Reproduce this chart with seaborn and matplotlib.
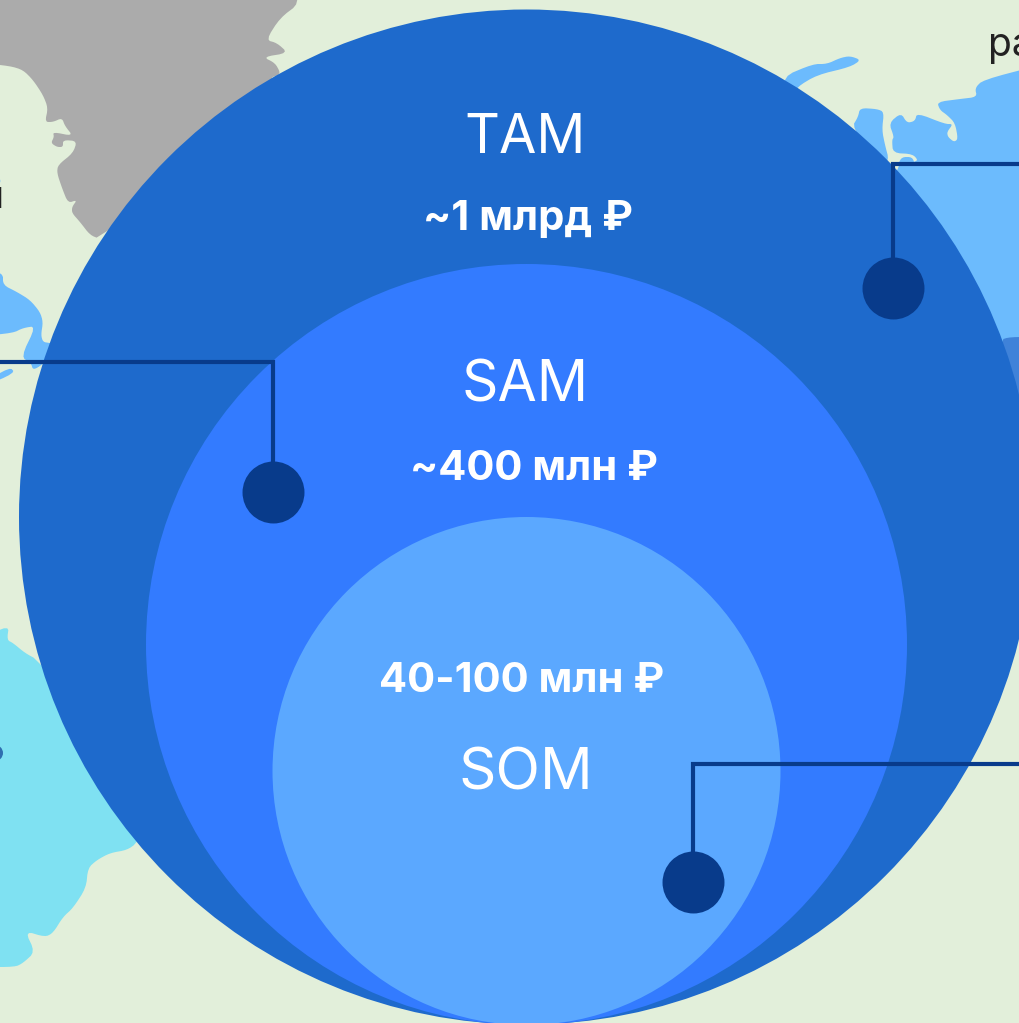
import matplotlib
matplotlib.use("Agg")
import matplotlib.pyplot as plt
from matplotlib.patches import Circle, Polygon
import numpy as np
import pandas as pd
import seaborn as sns

# Nested market circles: name, amount, centre and radius on the 1020x1023 canvas
market_names = ["TAM", "SAM", "SOM"]
market_amounts = ["~1 млрд ₽", "~400 млн ₽", "40-100 млн ₽"]
circle_x = [526.5, 526.5, 526.5]
circle_y = [517.0, 644.5, 771.0]
circle_r = [507.5, 380.5, 254.0]
circle_colors = ["#1E6ACC", "#337BFF", "#5BA8FF"]

# Callout pins and the elbows of their leader lines
pin_x = [893.5, 273.5, 693.0]
pin_y = [288.0, 492.0, 882.0]
elbow_y = [164.0, 361.5, 763.5]
leader_end_x = [1020.0, 0.0, 1020.0]

# Background regions, traced in canvas coordinates
gray_region = [(-20, 63), (10, 66), (23, 70), (33, 80), (43, 95), (48, 108), (45, 122), (53, 122),
               (62, 118), (65, 126), (73, 136), (53, 132), (54, 137), (51, 143), (57, 147), (63, 147),
               (63, 140), (77, 141), (73, 153), (58, 165), (57, 173), (62, 188), (68, 203), (77, 200),
               (72, 207), (72, 213), (80, 222), (90, 235), (100, 239), (280, 90), (270, 78), (278, 75),
               (280, 72), (275, 63), (263, 57), (288, 53), (277, 43), (266, 40), (280, 18), (300, 3),
               (290, -20), (-20, -20)]
blue_west = [(-20, 267), (3, 273), (3, 285), (17, 292), (30, 300), (40, 312), (43, 322), (41, 335),
             (43, 342), (50, 343), (60, 345), (42, 365), (33, 370), (31, 363), (21, 357), (36, 326),
             (23, 328), (13, 333), (-20, 336)]
blue_west_islet = [(-20, 385), (10, 367), (15, 373), (-20, 388)]
blue_west_tip = [(-20, 172), (6, 181), (-20, 190)]
blue_north_strip = [(782, 77), (813, 64), (827, 64), (840, 58), (850, 56), (861, 60), (850, 67),
                    (817, 75), (797, 87), (790, 100)]
blue_north_left = [(852, 127), (858, 117), (860, 108), (877, 109), (884, 112), (882, 130), (885, 145),
                   (889, 160), (880, 170)]
blue_north_main = [(919, 162), (913, 154), (893, 153), (892, 140), (894, 137), (889, 123), (901, 113),
                   (907, 123), (915, 121), (917, 113), (945, 124), (953, 124), (947, 132), (948, 137),
                   (954, 142), (958, 139), (955, 123), (947, 115), (940, 110), (937, 102), (960, 99),
                   (977, 97), (975, 88), (983, 80), (1040, 65), (1040, 400), (895, 400), (890, 164)]
blue_north_islet = [(898, 164), (902, 157), (912, 157), (915, 164)]
blue_east_patch = [(1000, 340), (1010, 337), (1040, 337), (1040, 420), (1000, 420)]
teal_region = [(-20, 640), (9, 625), (7, 640), (13, 643), (25, 653), (38, 660), (160, 800), (137, 843),
               (127, 850), (110, 853), (97, 860), (88, 868), (86, 888), (73, 908), (63, 917), (53, 933),
               (45, 937), (25, 931), (35, 952), (23, 963), (15, 967), (-20, 967)]
map_regions = [
    (gray_region, "#ABABAB"),
    (blue_west, "#6CBBFD"),
    (blue_west_islet, "#6CBBFD"),
    (blue_west_tip, "#6CBBFD"),
    (blue_north_strip, "#6CBBFD"),
    (blue_north_left, "#6CBBFD"),
    (blue_north_main, "#6CBBFD"),
    (blue_north_islet, "#6CBBFD"),
    (blue_east_patch, "#3F82D9"),
    (teal_region, "#7FE1F2"),
]

LAND = "#E2EFDA"
PIN = "#083B8B"
FONT = ["Inter", "DejaVu Sans"]


def soften(points, cut=0.22, passes=2):
    """Round the corners of a closed outline so coastlines read as curves."""
    pts = np.asarray(points, dtype=float)
    for _ in range(passes):
        nxt = np.roll(pts, -1, axis=0)
        a = pts * (1 - cut) + nxt * cut
        b = pts * cut + nxt * (1 - cut)
        pts = np.column_stack([a, b]).reshape(-1, 2)
    return pts


sns.set_theme(style="white")
plt.rcParams["font.family"] = FONT

fig = plt.figure(figsize=(10.2, 10.23), dpi=100, facecolor=LAND)
ax = fig.add_axes([0, 0, 1, 1])
ax.set_facecolor(LAND)

for points, color in map_regions:
    ax.add_patch(Polygon(soften(points), closed=True, facecolor=color, edgecolor="none", zorder=1))

# Map labels cut off by the canvas edge, and a faded pin on the teal region
ax.text(988.5, 55.5, "ра", fontsize=28, color="#222222", ha="left", va="baseline", zorder=2)
ax.text(3, 207.5, "н", fontsize=27, color="#222222", ha="right", va="baseline", zorder=2)
ax.add_patch(Circle((-5, 753), 8, facecolor="#2F6FB0", edgecolor="none", zorder=2))

for x, y, r, color in zip(circle_x, circle_y, circle_r, circle_colors):
    ax.add_patch(Circle((x, y), r, facecolor=color, edgecolor="none", zorder=3))

for px, py, ey, ex in zip(pin_x, pin_y, elbow_y, leader_end_x):
    ax.plot([ex, px, px], [ey, ey, py], color=PIN, lw=3.0, solid_joinstyle="miter",
            solid_capstyle="butt", zorder=4)

pins = pd.DataFrame({"x": pin_x, "y": pin_y})
sns.scatterplot(data=pins, x="x", y="y", ax=ax, s=1990, color=PIN, linewidth=0, zorder=5, legend=False)
ax.set_xlim(0, 1020)
ax.set_ylim(1023, 0)
ax.set_xlabel("")
ax.set_ylabel("")
ax.set_axis_off()

name_y = [153, 401, 789]
name_size = [39, 41, 42]
amount_x = [528, 534.5, 522]
amount_y = [230, 480, 692]
for name, amount, ny, ns, ax_, ay in zip(market_names, market_amounts, name_y, name_size, amount_x, amount_y):
    ax.text(525.5, ny, name, fontsize=ns, color="white", ha="center", va="baseline", zorder=6)
    ax.text(ax_, ay, amount, fontsize=30, fontweight="bold", color="white", ha="center",
            va="baseline", zorder=6)

fig.savefig("out.png", dpi=100, facecolor=LAND)
